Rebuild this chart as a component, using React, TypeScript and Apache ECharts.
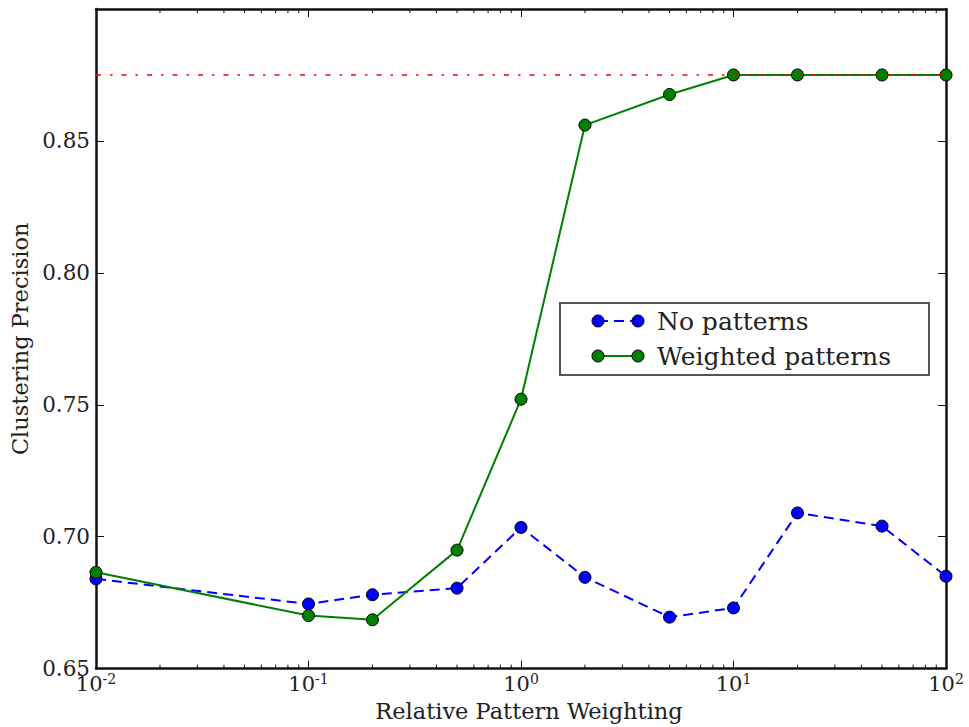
import React, { useEffect, useRef } from "react";
import * as echarts from "echarts";

const weights = [0.01, 0.1, 0.2, 0.5, 1, 2, 5, 10, 20, 50, 100];
const noPatterns = [0.684, 0.6745, 0.678, 0.6805, 0.7035, 0.6846, 0.6695, 0.673, 0.709, 0.704, 0.685];
const weightedPatterns = [0.6865, 0.6701, 0.6685, 0.6949, 0.7521, 0.856, 0.8676, 0.875, 0.875, 0.875, 0.875];
const referenceLevel = 0.875;
const yTicks = [0.65, 0.7, 0.75, 0.8, 0.85, 0.9];
const minorTickValues = [
  0.02, 0.03, 0.04, 0.05, 0.06, 0.07, 0.08, 0.09,
  0.2, 0.3, 0.4, 0.5, 0.6, 0.7, 0.8, 0.9,
  2, 3, 4, 5, 6, 7, 8, 9,
  20, 30, 40, 50, 60, 70, 80, 90,
];
const seriesNames = ["No patterns", "Weighted patterns"];

const FONT = "DejaVu Serif";
const YMIN = 0.65;
const YMAX = 0.9;

export default function App() {
  const ref = useRef<HTMLDivElement>(null);
  useEffect(() => {
    if (!ref.current) return;
    const chart = echarts.init(ref.current, undefined, { renderer: "svg" });
    const frame = { show: true, lineStyle: { color: "#111", width: 2.5 } };
    const tickStyle = { show: true, inside: true, length: 8, lineStyle: { color: "#111", width: 1 } };
    const xLabelFmt = (v: number) => `{b|10}{s|${Math.round(Math.log10(v))}}`;
    chart.setOption({
      animation: false,
      grid: { left: 96, right: 23, top: 9, bottom: 57, containLabel: false },
      xAxis: [
        {
          type: "log",
          logBase: 10,
          min: 0.01,
          max: 100,
          position: "bottom",
          name: "Relative Pattern Weighting",
          nameLocation: "middle",
          nameGap: 25,
          nameTextStyle: { fontFamily: FONT, fontSize: 22.5, color: "#222", padding: [0, 0, 0, 16] },
          axisLine: frame,
          axisTick: tickStyle,
          splitLine: { show: false },
          minorTick: { show: false },
          axisLabel: {
            formatter: xLabelFmt,
            margin: 3,
            rich: {
              b: { fontFamily: FONT, fontSize: 21, color: "#222" },
              s: { fontFamily: FONT, fontSize: 14, color: "#222", padding: [0, 0, 10, 0] },
            },
          },
        },
        {
          type: "log",
          logBase: 10,
          min: 0.01,
          max: 100,
          position: "top",
          axisLine: frame,
          axisTick: tickStyle,
          axisLabel: { show: false },
          splitLine: { show: false },
        },
      ],
      yAxis: [
        {
          type: "value",
          min: YMIN,
          max: YMAX,
          interval: 0.05,
          position: "left",
          name: "Clustering Precision",
          nameLocation: "middle",
          nameGap: 62,
          nameTextStyle: { fontFamily: FONT, fontSize: 22.5, color: "#222" },
          axisLine: frame,
          axisTick: tickStyle,
          splitLine: { show: false },
          axisLabel: {
            fontFamily: FONT,
            fontSize: 21.5,
            color: "#222",
            margin: 6,
            formatter: (v: number) => {
              const t = yTicks.find((y) => Math.abs(y - v) < 1e-6);
              if (t === undefined || Math.abs(t - YMAX) < 1e-6) return "";
              return t.toFixed(2);
            },
          },
        },
        {
          type: "value",
          min: YMIN,
          max: YMAX,
          interval: 0.05,
          position: "right",
          axisLine: frame,
          axisTick: tickStyle,
          axisLabel: { show: false },
          splitLine: { show: false },
        },
      ],
      series: [
        {
          type: "custom",
          name: "minorTicks",
          silent: true,
          data: minorTickValues.map((v) => [v, YMIN]),
          renderItem: (params: any, api: any) => {
            const v = api.value(0);
            const b = api.coord([v, YMIN]);
            const t = api.coord([v, YMAX]);
            const st = { stroke: "#111", lineWidth: 1 };
            return {
              type: "group",
              children: [
                { type: "line", shape: { x1: b[0], y1: b[1], x2: b[0], y2: b[1] - 4 }, style: st },
                { type: "line", shape: { x1: t[0], y1: t[1], x2: t[0], y2: t[1] + 4 }, style: st },
              ],
            };
          },
          z: 3,
        },
        {
          type: "line",
          name: seriesNames[0],
          data: weights.map((w, i) => [w, noPatterns[i]]),
          symbol: "circle",
          symbolSize: 12,
          lineStyle: { color: "#0000ff", width: 2, type: [10, 6] },
          itemStyle: { color: "#0000ff", borderColor: "#000", borderWidth: 1 },
          z: 4,
        },
        {
          type: "line",
          name: seriesNames[1],
          data: weights.map((w, i) => [w, weightedPatterns[i]]),
          symbol: "circle",
          symbolSize: 12,
          lineStyle: { color: "#008000", width: 2 },
          itemStyle: { color: "#008000", borderColor: "#000", borderWidth: 1 },
          z: 5,
        },
        {
          type: "line",
          name: "reference",
          data: [
            [weights[0], referenceLevel],
            [weights[weights.length - 1], referenceLevel],
          ],
          symbol: "none",
          lineStyle: { color: "#ff0000", width: 1.5, type: [5, 9, 2.5, 9] },
          z: 6,
        },
      ],
      graphic: [
        {
          type: "group",
          z: 100,
          children: [
            {
              type: "rect",
              shape: { x: 560, y: 303, width: 369, height: 72 },
              style: { fill: "#fff", stroke: "#555", lineWidth: 2 },
            },
            {
              type: "line",
              shape: { x1: 598, y1: 321, x2: 638, y2: 321 },
              style: { stroke: "#0000ff", lineWidth: 2, lineDash: [10, 6] },
            },
            { type: "circle", shape: { cx: 598, cy: 321, r: 6 }, style: { fill: "#0000ff", stroke: "#000", lineWidth: 1 } },
            { type: "circle", shape: { cx: 638, cy: 321, r: 6 }, style: { fill: "#0000ff", stroke: "#000", lineWidth: 1 } },
            {
              type: "text",
              x: 657,
              y: 321,
              style: { text: seriesNames[0], fontFamily: FONT, fontSize: 25, fill: "#222", verticalAlign: "middle" },
            },
            {
              type: "line",
              shape: { x1: 598, y1: 356, x2: 638, y2: 356 },
              style: { stroke: "#008000", lineWidth: 2 },
            },
            { type: "circle", shape: { cx: 598, cy: 356, r: 6 }, style: { fill: "#008000", stroke: "#000", lineWidth: 1 } },
            { type: "circle", shape: { cx: 638, cy: 356, r: 6 }, style: { fill: "#008000", stroke: "#000", lineWidth: 1 } },
            {
              type: "text",
              x: 657,
              y: 356,
              style: { text: seriesNames[1], fontFamily: FONT, fontSize: 25, fill: "#222", verticalAlign: "middle" },
            },
          ],
        },
      ],
    });
    return () => chart.dispose();
  }, []);
  return <div ref={ref} style={{ width: 969, height: 727, position: "absolute", left: 0, top: 0, background: "#fff" }} />;
}
